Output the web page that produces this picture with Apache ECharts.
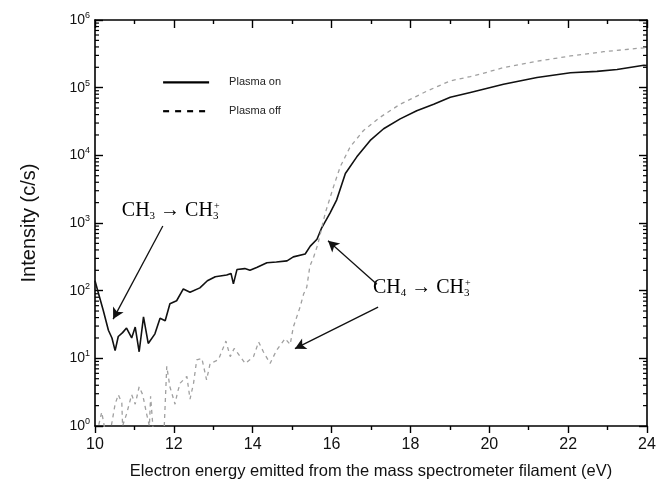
<!DOCTYPE html>
<html>
<head>
<meta charset="utf-8">
<script src="https://cdn.jsdelivr.net/npm/echarts@6/dist/echarts.min.js"></script>
<style>
html,body{margin:0;padding:0;background:#fff;}
#chart{width:668px;height:485px;}
</style>
</head>
<body>
<div id="chart"></div>
<script>
// ---- data ----
const energyOn = [10.0, 10.08, 10.21, 10.34, 10.43, 10.51, 10.59, 10.7, 10.8, 10.93, 11.02, 11.12, 11.23, 11.35, 11.52, 11.65, 11.78, 11.9, 12.07, 12.24, 12.41, 12.66, 12.85, 13.05, 13.34, 13.45, 13.51, 13.6, 13.8, 13.93, 14.1, 14.36, 14.6, 14.87, 15.03, 15.33, 15.46, 15.63, 15.75, 15.96, 16.13, 16.35, 16.64, 16.98, 17.32, 17.74, 18.16, 18.59, 19.01, 19.52, 20.36, 21.21, 22.06, 22.73, 23.24, 23.92, 24.0];
const intensityOn = [140, 95, 51, 26, 20, 13, 21, 24, 28, 20, 29, 12.5, 41, 16.6, 23, 39, 36, 64, 71, 106, 95, 110, 140, 161, 170, 180, 126, 205, 212, 200, 220, 258, 265, 276, 316, 348, 456, 575, 850, 1400, 2200, 5400, 9500, 16600, 24700, 34600, 45700, 57000, 72000, 85000, 112000, 141000, 166000, 174000, 186000, 215000, 212000];

const energyOff = [10.05, 10.17, 10.25, 10.4, 10.51, 10.59, 10.68, 10.7, 10.8, 10.93, 11.02, 11.12, 11.21, 11.31, 11.38, 11.41, 11.48, 11.75, 11.82, 11.9, 12.03, 12.09, 12.16, 12.33, 12.41, 12.5, 12.58, 12.71, 12.83, 12.92, 13.13, 13.32, 13.43, 13.53, 13.81, 14.02, 14.15, 14.27, 14.44, 14.61, 14.82, 14.95, 15.03, 15.2, 15.29, 15.37, 15.45, 15.55, 15.65, 15.84, 16.05, 16.22, 16.47, 16.81, 17.23, 17.74, 18.42, 19.01, 19.52, 19.77, 20.36, 21.21, 22.06, 22.9, 23.92, 24.0];
const intensityOff = [0.8, 1.6, 0.9, 0.9, 2.1, 2.9, 2.2, 1.0, 1.5, 2.9, 2.1, 3.8, 2.9, 1.5, 1.0, 2.75, 0.8, 0.8, 7.6, 3.8, 2.1, 3.1, 4.3, 5.4, 2.5, 4.3, 9.5, 10, 4.8, 8.4, 9.5, 18, 10.6, 14, 8.4, 10.6, 17.5, 12.5, 8.4, 13.3, 19.6, 16, 29, 57, 89, 112, 230, 320, 480, 1400, 3450, 6800, 13300, 23300, 36500, 57000, 89000, 126000, 146000, 158000, 198000, 246000, 294000, 340000, 389000, 395000];

const seriesNames = ['Plasma on', 'Plasma off'];
const xTicks = [10, 12, 14, 16, 18, 20, 22, 24];
const decades = [1, 10, 100, 1000, 10000, 100000];
const minorMultiples = [2, 3, 4, 5, 6, 7, 8, 9];

const xName = 'Electron energy emitted from the mass spectrometer filament (eV)';
const yName = 'Intensity (c/s)';

// ---- build ----
const zip = (xs, ys) => xs.map((x, i) => [x, ys[i]]);
const minorTickData = [];
decades.forEach(d => minorMultiples.forEach(m => minorTickData.push([10, d * m])));

const chart = echarts.init(document.getElementById('chart'), null, {renderer: 'canvas'});
const sans = 'Liberation Sans, Arial, sans-serif';
const serif = 'Liberation Serif, Times New Roman, serif';

const option = {
  animation: false,
  backgroundColor: '#fff',
  grid: {left: 95, right: 21, top: 20, bottom: 55, containLabel: false},
  legend: {
    left: 162, top: 76, orient: 'vertical', itemGap: 16, padding: 0,
    itemWidth: 46, itemHeight: 16,
    textStyle: {fontFamily: sans, fontSize: 11, color: '#222', padding: [0, 0, 0, 15]},
    data: [
      {name: seriesNames[0], itemStyle: {opacity: 0}, lineStyle: {color: '#000', width: 2.2}},
      {name: seriesNames[1], itemStyle: {opacity: 0}, lineStyle: {color: '#000', width: 2.2, type: [6, 6]}}
    ]
  },
  xAxis: [
    {
      type: 'value', min: 10, max: 24, interval: 2, position: 'bottom',
      name: xName, nameLocation: 'middle', nameGap: 37,
      nameTextStyle: {fontFamily: sans, fontSize: 16.5, color: '#111'},
      axisLine: {lineStyle: {color: '#000', width: 1.6}},
      axisTick: {inside: false, length: 7, lineStyle: {color: '#000', width: 1.4}},
      minorTick: {show: true, splitNumber: 2, length: 4, lineStyle: {color: '#000', width: 1.4}},
      axisLabel: {fontFamily: sans, fontSize: 16, color: '#111', margin: 11,
        formatter: v => xTicks.includes(v) ? String(v) : ''},
      splitLine: {show: false}
    },
    {
      type: 'value', min: 10, max: 24, interval: 2, position: 'top',
      axisLine: {lineStyle: {color: '#000', width: 1.6}},
      axisTick: {inside: true, length: 8, lineStyle: {color: '#000', width: 1.4}},
      minorTick: {show: true, splitNumber: 2, length: 4, lineStyle: {color: '#000', width: 1.4}},
      axisLabel: {show: false}, splitLine: {show: false}
    }
  ],
  yAxis: [
    {
      type: 'log', logBase: 10, min: 1, max: 1000000, position: 'left',
      name: yName, nameLocation: 'middle', nameGap: 56, nameRotate: 90,
      nameTextStyle: {fontFamily: sans, fontSize: 20, color: '#111'},
      axisLine: {lineStyle: {color: '#000', width: 1.6}},
      axisTick: {inside: true, length: 8, lineStyle: {color: '#000', width: 1.4}},
      axisLabel: {
        margin: 5,
        formatter: v => '{b|10}{s|' + Math.round(Math.log10(v)) + '}',
        rich: {
          b: {fontFamily: sans, fontSize: 14, color: '#111'},
          s: {fontFamily: sans, fontSize: 9, color: '#111', padding: [0, 0, 9, 0]}
        }
      },
      splitLine: {show: false}
    },
    {
      type: 'log', logBase: 10, min: 1, max: 1000000, position: 'right',
      axisLine: {lineStyle: {color: '#000', width: 1.6}},
      axisTick: {inside: true, length: 8, lineStyle: {color: '#000', width: 1.4}},
      axisLabel: {show: false}, splitLine: {show: false}
    }
  ],
  series: [
    {
      name: seriesNames[0], type: 'line', xAxisIndex: 0, yAxisIndex: 0,
      data: zip(energyOn, intensityOn), symbol: 'none', smooth: false, clip: true,
      lineStyle: {color: '#111', width: 1.6}, itemStyle: {color: '#111'},
      markLine: {
        silent: true, symbol: ['none', 'arrow'], symbolSize: [9, 11],
        lineStyle: {color: '#111', width: 1.3, type: 'solid'},
        label: {show: false},
        data: [
          [{coord: [11.72, 904]}, {coord: [10.46, 38]}],
          [{coord: [17.15, 124]}, {coord: [15.91, 546]}],
          [{coord: [17.18, 57]}, {coord: [15.07, 13.9]}]
        ]
      }
    },
    {
      name: seriesNames[1], type: 'line', xAxisIndex: 0, yAxisIndex: 0,
      data: zip(energyOff, intensityOff), symbol: 'none', smooth: false, clip: true,
      lineStyle: {color: '#a0a0a0', width: 1.3, type: [4, 4]}, itemStyle: {color: '#a0a0a0'}
    },
    {
      name: 'minor', type: 'custom', xAxisIndex: 0, yAxisIndex: 0, silent: true,
      data: minorTickData, clip: false,
      renderItem: (params, api) => {
        const y = api.coord([api.value(0), api.value(1)])[1];
        const cs = params.coordSys;
        return {type: 'group', children: [
          {type: 'line', shape: {x1: cs.x, y1: y, x2: cs.x + 4, y2: y}, style: {stroke: '#000', lineWidth: 1.2}},
          {type: 'line', shape: {x1: cs.x + cs.width, y1: y, x2: cs.x + cs.width - 4, y2: y}, style: {stroke: '#000', lineWidth: 1.2}}
        ]};
      }
    }
  ]
};
chart.setOption(option);

// annotations placed in data space
const richCH = {
  n: {fontFamily: serif, fontSize: 20, color: '#111'},
  sub: {fontFamily: serif, fontSize: 11, color: '#111', padding: [10, 0, 0, 0]},
  subz: {fontFamily: serif, fontSize: 11, color: '#111', padding: [10, 0, 0, 0], width: 1},
  sup: {fontFamily: serif, fontSize: 10, color: '#111', padding: [0, 0, 10, 0]}
};
const p1 = chart.convertToPixel({xAxisIndex: 0, yAxisIndex: 0}, [10.68, 1500]);
const p2 = chart.convertToPixel({xAxisIndex: 0, yAxisIndex: 0}, [17.05, 105]);
chart.setOption({
  graphic: [
    {type: 'text', left: p1[0], top: p1[1] - 10, silent: true,
      style: {text: '{n|CH}{sub|3}{n| \u2192 CH}{subz|3}{sup|+}', rich: richCH}},
    {type: 'text', left: p2[0], top: p2[1] - 11, silent: true,
      style: {text: '{n|CH}{sub|4}{n| \u2192 CH}{subz|3}{sup|+}', rich: richCH}}
  ]
});
</script>
</body>
</html>
